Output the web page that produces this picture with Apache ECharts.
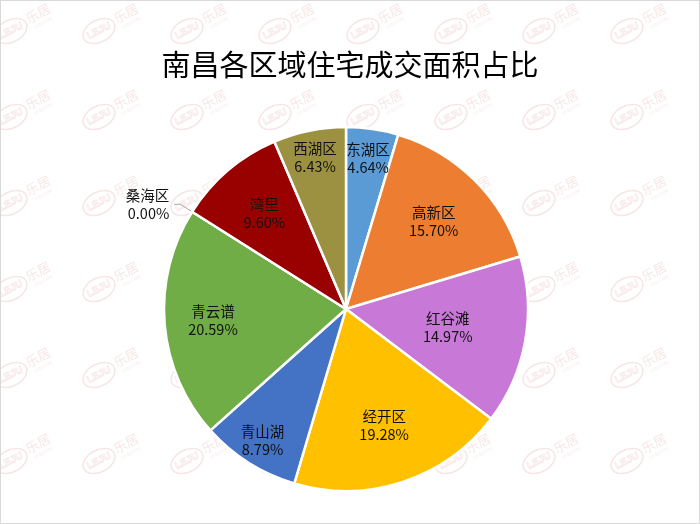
<!DOCTYPE html>
<html><head><meta charset="utf-8">
<script src="https://cdn.jsdelivr.net/npm/echarts@6/dist/echarts.min.js"></script>
<style>html,body{margin:0;padding:0;background:#fff}#c{width:700px;height:524px;box-sizing:border-box;border:1px solid #d9d9d9}</style>
</head><body><div id="c"></div>
<script>
const categories = ['东湖区','高新区','红谷滩','经开区','青山湖','青云谱','桑海区','湾里','西湖区'];
const values = [4.64, 15.70, 14.97, 19.28, 8.79, 20.59, 0.00, 9.60, 6.43];
const colors = ['#5B9BD5','#ED7D31','#C878D6','#FFC000','#4472C4','#70AD47','#A5A5A5','#990000','#9C9141'];
const titleText = '南昌各区域住宅成交面积占比';
// radial placement of labels (fraction of radius), matching original layout
const labelRadius = [0.81,0.66,0.55,0.65,0.83,0.71,null,0.67,0.82];

const chart = echarts.init(document.getElementById('c'), null, {renderer:'canvas'});
const CX = 345, CY = 308, R = 182;

// faint background watermark
const wm = [];
const wmColor = 'rgba(215,130,130,0.2)';
for (let y = 30; y < 524; y += 86) {
  for (let x = 10; x < 700; x += 88) {
    wm.push({type:'group', x:x, y:y, rotation:Math.PI/6.5, silent:true, z:100, children:[
      {type:'ellipse', shape:{cx:0, cy:0, rx:17, ry:11}, style:{fill:'none', stroke:wmColor, lineWidth:1.6}},
      {type:'text', x:0, y:0, style:{text:'LEJU', fill:'none', stroke:wmColor, lineWidth:0.8, font:'bold 10px Liberation Sans', textAlign:'center', textVerticalAlign:'middle'}},
      {type:'text', x:32, y:-3, style:{text:'乐居', fill:wmColor, font:'13px Noto Sans CJK SC', textAlign:'center', textVerticalAlign:'middle'}},
      {type:'text', x:32, y:8, style:{text:'LEJU.COM', fill:wmColor, font:'4px Liberation Sans', textAlign:'center', textVerticalAlign:'middle'}}
    ]});
  }
}

const data = categories.map((n,i)=>{
  const d = {name:n, value:values[i], itemStyle:{color:colors[i]}};
  if (values[i] === 0) {
    d.label = {position:'outside', align:'center'};
    d.labelLine = {show:true, length:14, length2:6, lineStyle:{color:'#a6a6a6', width:1}};
  }
  return d;
});
chart.setOption({
  animation:false,
  graphic:wm,
  title:{text:titleText, left:'center', top:44, textStyle:{fontFamily:'Noto Sans CJK SC', fontSize:29, fontWeight:'normal', color:'#000'}},
  series:[{
    type:'pie', center:[CX,CY], radius:R, startAngle:90, clockwise:true,
    minAngle:0, avoidLabelOverlap:false, stillShowZeroSum:true,
    itemStyle:{borderColor:'#fff', borderWidth:2.5},
    label:{show:true, position:'inside', formatter:p=>p.name+'\n'+p.value.toFixed(2)+'%',
      fontFamily:'Noto Sans CJK SC', fontSize:14.5, lineHeight:18, color:'#111', align:'center'},
    labelLine:{show:false},
    labelLayout:function(p){
      const f = labelRadius[p.dataIndex];
      if (f == null) return {};
      const r = p.labelRect;
      const lx = r.x + r.width/2, ly = r.y + r.height/2;
      const k = f/0.5;
      return {x: CX + (lx-CX)*k, y: CY + (ly-CY)*k, align:'center', verticalAlign:'middle'};
    },
    data:data
  }]
});
</script></body></html>
